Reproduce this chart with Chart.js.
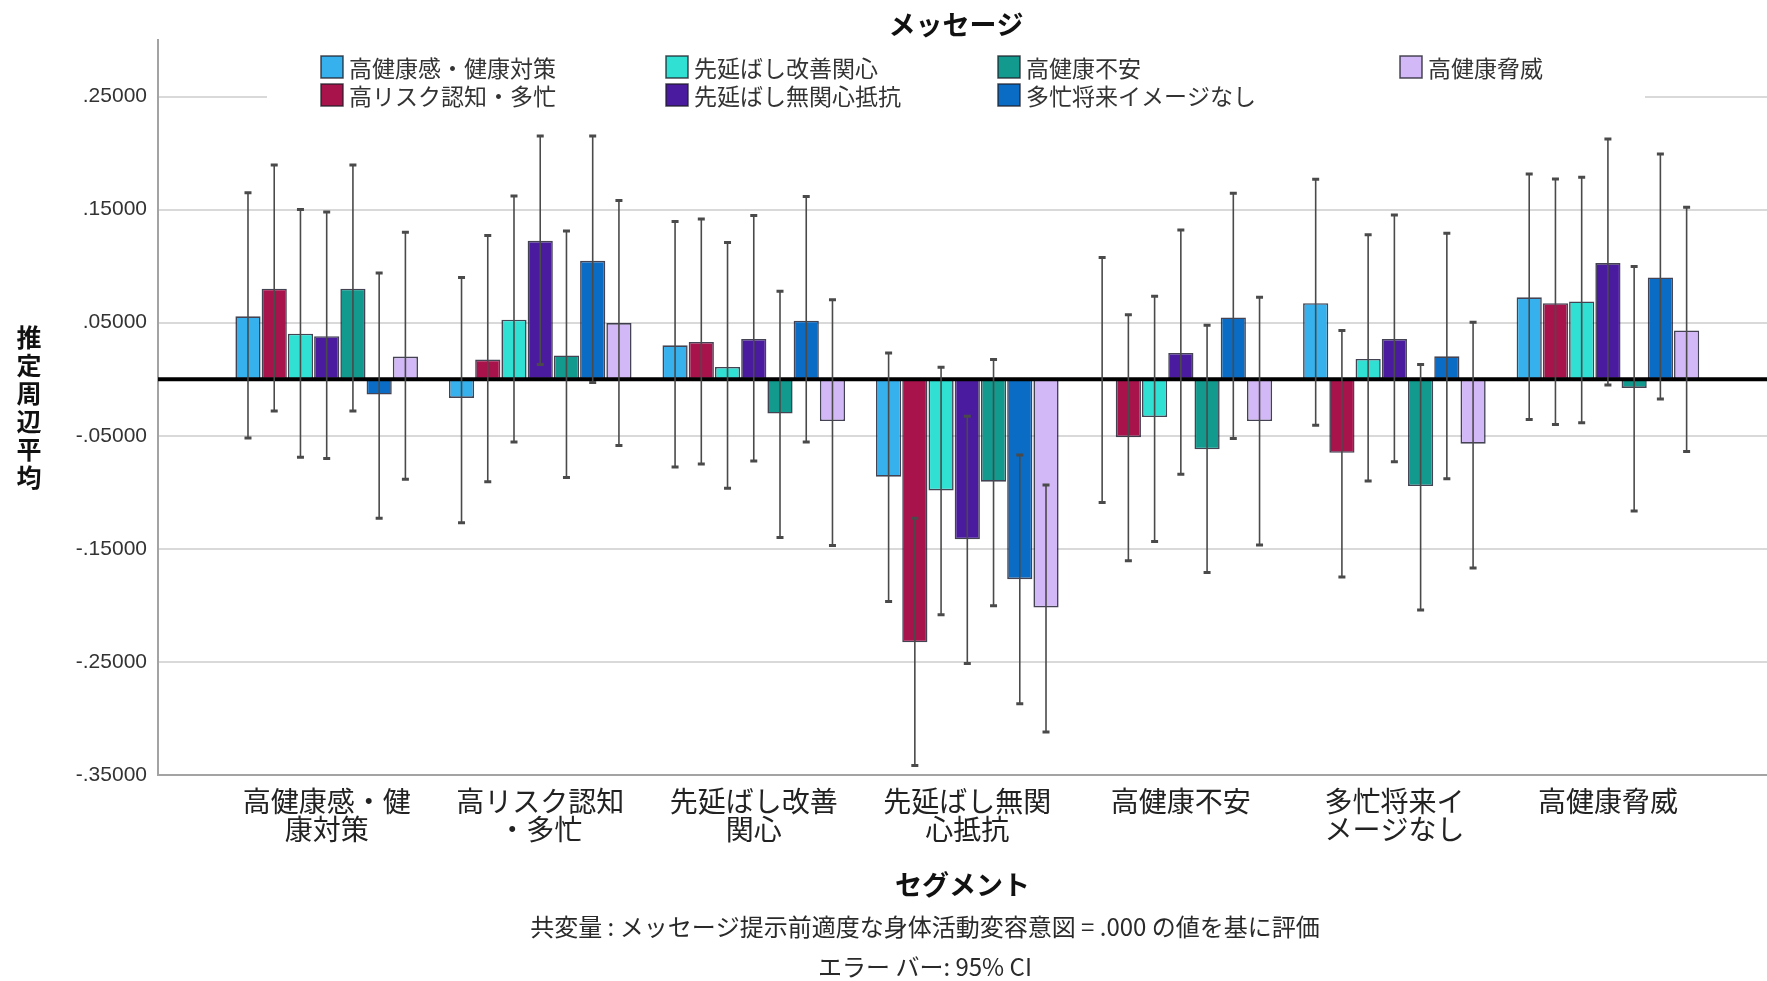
<!DOCTYPE html>
<html><head><meta charset="utf-8">
<script src="https://cdn.jsdelivr.net/npm/chart.js@4.4.1/dist/chart.umd.min.js"></script>
<style>html,body{margin:0;padding:0;background:#fff;overflow:hidden}#wrap{width:1767px;height:981px;position:relative}</style>
</head><body><div id="wrap"><canvas id="c" width="1767" height="981"></canvas></div>
<script>
// ---- data ----
const categories = ['高健康感・健康対策','高リスク認知・多忙','先延ばし改善関心','先延ばし無関心抵抗','高健康不安','多忙将来イメージなし','高健康脅威'];
const categoryTickLabels = [['高健康感・健','康対策'],['高リスク認知','・多忙'],['先延ばし改善','関心'],['先延ばし無関','心抵抗'],['高健康不安'],['多忙将来イ','メージなし'],['高健康脅威']];
const seriesNames = ['高健康感・健康対策','高リスク認知・多忙','先延ばし改善関心','先延ばし無関心抵抗','高健康不安','多忙将来イメージなし','高健康脅威'];
const seriesColors = ['#36b1ee','#a8134c','#2fe0d3','#4a1b9e','#119a8d','#0a6cc4','#d3b8f7'];

const s1Mean = [0.0556,-0.0165,0.0300,-0.0862,-0.0010,0.0673,0.0724];
const s1Low  = [-0.0520,-0.1270,-0.0777,-0.1965,-0.1090,-0.0406,-0.0356];
const s1High = [0.1650,0.0900,0.1394,0.0232,0.1077,0.1768,0.1815];

const s2Mean = [0.0800,0.0174,0.0330,-0.2327,-0.0512,-0.0650,0.0673];
const s2Low  = [-0.0280,-0.0906,-0.0750,-0.3416,-0.1606,-0.1748,-0.0400];
const s2High = [0.1895,0.1270,0.1418,-0.1230,0.0570,0.0430,0.1770];

const s3Mean = [0.0403,0.0527,0.0109,-0.0983,-0.0335,0.0180,0.0688];
const s3Low  = [-0.0690,-0.0556,-0.0965,-0.2083,-0.1436,-0.0900,-0.0385];
const s3High = [0.1500,0.1620,0.1210,0.0106,0.0733,0.1277,0.1786];

const s4Mean = [0.0380,0.1224,0.0356,-0.1415,0.0232,0.0356,0.1027];
const s4Low  = [-0.0700,0.0130,-0.0724,-0.2513,-0.0840,-0.0730,-0.0050];
const s4High = [0.1480,0.2150,0.1447,-0.0327,0.1320,0.1453,0.2124];

const s5Mean = [0.0800,0.0210,-0.0303,-0.0906,-0.0620,-0.0944,-0.0077];
const s5Low  = [-0.0280,-0.0870,-0.1400,-0.2003,-0.1710,-0.2040,-0.1165];
const s5High = [0.1895,0.1310,0.0777,0.0174,0.0477,0.0130,0.0997];

const s6Mean = [-0.0135,0.1047,0.0518,-0.1768,0.0547,0.0203,0.0900];
const s6Low  = [-0.1230,-0.0030,-0.0556,-0.2870,-0.0524,-0.0880,-0.0174];
const s6High = [0.0940,0.2150,0.1615,-0.0670,0.1644,0.1290,0.1992];

const s7Mean = [0.0200,0.0497,-0.0370,-0.2018,-0.0370,-0.0570,0.0432];
const s7Low  = [-0.0885,-0.0585,-0.1470,-0.3120,-0.1465,-0.1670,-0.0640];
const s7High = [0.1300,0.1580,0.0703,-0.0936,0.0724,0.0503,0.1520];

const yTickValues = [-0.35,-0.25,-0.15,-0.05,0.05,0.15,0.25];

const chartTitle = 'メッセージ';
const yAxisTitle = '推定周辺平均';
const xAxisTitle = 'セグメント';
const footnotes = ['共変量 : メッセージ提示前適度な身体活動変容意図 = .000 の値を基に評価','エラー バー: 95% CI'];

// ---- build ----
const means = [s1Mean,s2Mean,s3Mean,s4Mean,s5Mean,s6Mean,s7Mean];
const lows  = [s1Low,s2Low,s3Low,s4Low,s5Low,s6Low,s7Low];
const highs = [s1High,s2High,s3High,s4High,s5High,s6High,s7High];

const FAM = "'Liberation Sans','Noto Sans CJK JP',sans-serif";
const JFAM = "'Noto Sans CJK JP','Liberation Sans',sans-serif";

const datasets = seriesNames.map((name, si) => ({
  label: name,
  data: means[si].map((v, ci) => ({x: ci, y: v})),
  backgroundColor: seriesColors[si],
  borderColor: 'rgba(20,20,40,0.8)',
  borderWidth: 1.6,
  borderSkipped: false,
  categoryPercentage: 0.86,
  barPercentage: 0.96,
  lows: lows[si],
  highs: highs[si]
}));

const fmt = v => v.toFixed(5).replace(/^(-?)0\./, '$1.');

const legendBox = {l: 267, r: 1645, t: 50, b: 113};
const legendCols = [321, 666, 998, 1400];
const legendRows = [67, 95];

const annot = {
  id: 'annot',
  beforeDatasetsDraw(chart) {
    const ctx = chart.ctx;
    ctx.save();
    ctx.fillStyle = '#fff';
    ctx.fillRect(legendBox.l, legendBox.t, legendBox.r - legendBox.l, legendBox.b - legendBox.t);
    ctx.restore();
  },
  afterDatasetsDraw(chart) {
    const ctx = chart.ctx, ys = chart.scales.y, ca = chart.chartArea;
    ctx.save();
    const y0 = ys.getPixelForValue(0);
    ctx.strokeStyle = '#000'; ctx.lineWidth = 4;
    ctx.beginPath(); ctx.moveTo(ca.left, y0); ctx.lineTo(ca.right, y0); ctx.stroke();
    chart.data.datasets.forEach((ds, si) => {
      const meta = chart.getDatasetMeta(si);
      meta.data.forEach((bar, ci) => {
        const x = bar.x;
        const yl = ys.getPixelForValue(ds.lows[ci]);
        const yh = ys.getPixelForValue(ds.highs[ci]);
        ctx.strokeStyle = '#4a4a4a'; ctx.lineWidth = 1.6;
        ctx.beginPath(); ctx.moveTo(x, yl); ctx.lineTo(x, yh); ctx.stroke();
        ctx.lineWidth = 3;
        ctx.beginPath();
        ctx.moveTo(x - 3.5, yl); ctx.lineTo(x + 3.5, yl);
        ctx.moveTo(x - 3.5, yh); ctx.lineTo(x + 3.5, yh);
        ctx.stroke();
      });
    });
    ctx.restore();
  },
  afterDraw(chart) {
    const ctx = chart.ctx, ca = chart.chartArea;
    ctx.save();
    ctx.fillStyle = '#111';
    ctx.font = 'bold 27px ' + JFAM;
    ctx.textAlign = 'center'; ctx.textBaseline = 'middle';
    ctx.fillText(chartTitle, (legendBox.l + legendBox.r) / 2, 25);
    ctx.font = '23px ' + JFAM;
    ctx.textAlign = 'left';
    seriesNames.forEach((name, i) => {
      const col = Math.floor(i / 2), row = i % 2;
      const bx = legendCols[col], cy = legendRows[row];
      ctx.fillStyle = seriesColors[i];
      ctx.fillRect(bx, cy - 11, 22, 22);
      ctx.strokeStyle = 'rgba(30,30,40,0.8)'; ctx.lineWidth = 1.5;
      ctx.strokeRect(bx, cy - 11, 22, 22);
      ctx.fillStyle = '#333';
      ctx.fillText(name, bx + 28, cy + 1);
    });
    ctx.font = 'bold 25px ' + JFAM;
    ctx.textAlign = 'center'; ctx.fillStyle = '#111';
    const chars = Array.from(yAxisTitle);
    const step = 28;
    const mid = (ca.top + ca.bottom) / 2;
    chars.forEach((ch, i) => {
      ctx.fillText(ch, 29, mid + (i - (chars.length - 1) / 2) * step);
    });
    ctx.font = '24px ' + JFAM;
    ctx.fillStyle = '#2a2a2a';
    ctx.fillText(footnotes[0], 925, 927);
    ctx.fillText(footnotes[1], 925, 967);
    ctx.restore();
  }
};

new Chart(document.getElementById('c'), {
  type: 'bar',
  data: { datasets },
  plugins: [annot],
  options: {
    responsive: false,
    animation: false,
    devicePixelRatio: 1,
    layout: { padding: { top: 40, left: 0, right: 0, bottom: 80 } },
    plugins: { legend: { display: false }, title: { display: false }, tooltip: { enabled: false } },
    scales: {
      x: {
        type: 'linear', min: -0.79, max: 6.745, offset: false,
        grid: { display: false, drawTicks: false },
        border: { display: true, color: '#a3a3a3', width: 2 },
        afterBuildTicks: s => { s.ticks = categories.map((c, i) => ({ value: i })); },
        ticks: {
          callback: v => categoryTickLabels[v],
          font: { size: 28, family: JFAM, lineHeight: 1.0 },
          color: '#222', padding: 12, maxRotation: 0, minRotation: 0, autoSkip: false
        },
        title: { display: true, text: xAxisTitle, font: { size: 27, weight: 'bold', family: JFAM }, color: '#111', padding: 0 },
        afterFit: s => { s.height = 126; }
      },
      y: {
        min: -0.35, max: 0.30,
        afterBuildTicks: s => { s.ticks = yTickValues.map(v => ({ value: v })); },
        ticks: { callback: v => fmt(v), font: { size: 21, family: FAM }, color: '#333', padding: 11 },
        grid: { color: '#d9d9d9', lineWidth: 2, drawTicks: false },
        border: { display: true, color: '#a3a3a3', width: 2 },
        afterFit: s => { s.width = 158; }
      }
    }
  }
});
</script>
</body></html>
